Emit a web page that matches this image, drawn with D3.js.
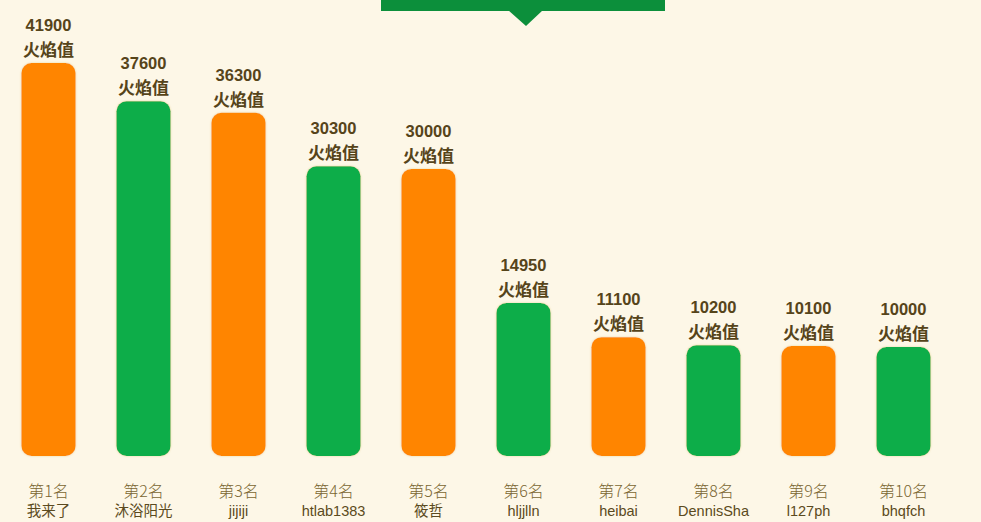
<!DOCTYPE html>
<html><head><meta charset="utf-8">
<script src="https://cdn.jsdelivr.net/npm/d3@7"></script>
<style>
html,body{margin:0;padding:0;background:#fdf7e7;}
svg{display:block;}
</style></head>
<body>
<svg id="chart" width="981" height="522"></svg>
<script>
const ranks = ["第1名","第2名","第3名","第4名","第5名","第6名","第7名","第8名","第9名","第10名"];
const names = ["我来了","沐浴阳光","jijiji","htlab1383","筱哲","hljjlln","heibai","DennisSha","l127ph","bhqfch"];
const values = [41900,37600,36300,30300,30000,14950,11100,10200,10100,10000];
const unitLabel = "火焰值";
const colors = ["#ff8500","#0aad4a"];

const svg = d3.select("#chart");
svg.append("rect").attr("width",981).attr("height",522).attr("fill","#fdf7e7");

// banner at top
svg.append("rect").attr("x",381).attr("y",0).attr("width",284).attr("height",11).attr("fill","#0c8f3b");
svg.append("path").attr("d","M508,10 L543,10 L526,26 Z").attr("fill","#0c8f3b");

const x = d3.scaleBand().domain(d3.range(values.length)).range([1,951]).paddingInner(0.43).paddingOuter(0.215);
const baseY = 456;
const y = d3.scaleLinear().domain([0, d3.max(values)]).range([baseY-20, 63]);

const defs = svg.append("defs");
const f = defs.append("filter").attr("id","glow").attr("x","-20%").attr("y","-20%").attr("width","140%").attr("height","140%");
f.append("feGaussianBlur").attr("in","SourceAlpha").attr("stdDeviation",1.2).attr("result","b");
f.append("feFlood").attr("flood-color","#e8d9a0").attr("result","c");
f.append("feComposite").attr("in","c").attr("in2","b").attr("operator","in").attr("result","s");
const m = f.append("feMerge");
m.append("feMergeNode").attr("in","s");
m.append("feMergeNode").attr("in","SourceGraphic");

const g = svg.append("g");
const bars = g.selectAll("g.bar").data(values).join("g").attr("class","bar");
bars.append("rect")
  .attr("x",(d,i)=>x(i)).attr("width",x.bandwidth())
  .attr("y",d=>y(d)).attr("height",d=>baseY-y(d))
  .attr("rx",10).attr("ry",10)
  .attr("fill",(d,i)=>colors[i%2])
  .attr("filter","url(#glow)");

bars.append("text")
  .attr("x",(d,i)=>x(i)+x.bandwidth()/2)
  .attr("y",d=>y(d)-32)
  .attr("text-anchor","middle")
  .attr("font-family","'Liberation Sans', Arial, sans-serif")
  .attr("font-weight","bold").attr("font-size",16.5)
  .attr("fill","#56441a")
  .text(d=>d);
bars.append("text")
  .attr("x",(d,i)=>x(i)+x.bandwidth()/2)
  .attr("y",d=>y(d)-7)
  .attr("text-anchor","middle")
  .attr("font-family","'Noto Sans CJK SC', sans-serif")
  .attr("font-weight","bold").attr("font-size",17)
  .attr("fill","#56441a")
  .text(unitLabel);

bars.append("text")
  .attr("x",(d,i)=>x(i)+x.bandwidth()/2)
  .attr("y",497)
  .attr("text-anchor","middle")
  .attr("font-family","'Noto Sans CJK SC', sans-serif")
  .attr("font-size",16).attr("font-weight",300)
  .attr("fill","#7a6632")
  .text((d,i)=>ranks[i]);
bars.append("text")
  .attr("x",(d,i)=>x(i)+x.bandwidth()/2)
  .attr("y",516)
  .attr("text-anchor","middle")
  .attr("font-family","'Liberation Sans', 'Noto Sans CJK SC', sans-serif")
  .attr("font-size",14.5)
  .attr("fill","#5b4a20")
  .text((d,i)=>names[i]);
</script>
</body></html>
